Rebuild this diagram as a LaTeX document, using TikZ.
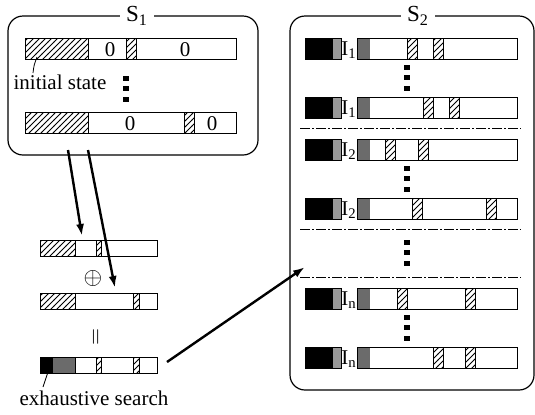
\documentclass[tikz,border=0pt]{standalone}
\usepackage{fontspec}
\setmainfont{Liberation Serif}
\usetikzlibrary{patterns,arrows.meta}
\tikzset{
	cell/.style    = {draw, line width=0.5pt},
	hatch/.style   = {draw, line width=0.5pt, pattern=north east lines},
	grain/.style   = {fill=black!40},
	darkgrain/.style = {fill=black!58},
	group/.style   = {draw, line width=0.6pt, rounded corners=7.5pt},
	title/.style   = {fill=white, inner sep=3pt, font=\rmfamily\fontsize{11.5}{12}\selectfont},
	tag/.style     = {inner sep=0pt, font=\rmfamily\fontsize{10.5}{12}\selectfont},
	sep/.style     = {line width=0.5pt, dash pattern=on 5pt off 1pt on 1pt off 1pt}, % Separator
	flow/.style    = {-{Latex[length=6pt,width=4pt]}, line width=1.2pt} % Arrows
}
\newcommand{\dotcol}[2]{%
	\foreach \k in {0,1,2} \fill (#1-3,#2+\k*10.5-2.5) rectangle (#1+3,#2+\k*10.5+2.5);}

\begin{document}
\begin{tikzpicture}[x=0.5pt, y=-0.5pt]
	\useasboundingbox (0,0) rectangle (535,414);
	% S1
	\draw[group] (8,16) rectangle (258,155);
	\node[title] (s1) at (137,16) {S\textsubscript{1}};
	\draw[hatch] (25,38) rectangle (88,59);
	\draw[hatch] (126,38) rectangle (136,59);
	\draw[cell] (25,38) rectangle (236,59);
	\node[tag] (z1) at (110,50) {0};
	\node[tag] (z2) at (185,50) {0};
	\draw[hatch] (25,112) rectangle (88,133);
	\draw[hatch] (184,112) rectangle (194,133);
	\draw[cell] (25,112) rectangle (236,133);
	\node[tag] (z3) at (130,124) {0};
	\node[tag] (z4) at (212,124) {0};
	\dotcol{126}{78}
	\node[tag] (init) at (60,82) {initial state};
	\coordinate (initend) at (37,57);
	\draw[line width=0.4pt] (33,73) .. controls (34,65) .. (initend);

	% S2
	\draw[group] (290,16) rectangle (534,390);
	\node[title] (s2) at (418,16) {S\textsubscript{2}};
	\foreach \y/\n/\a/\b in {38/1/407/433, 97/1/423/449, 139/2/385/418,
		198/2/412/486, 288/n/397/465, 347/n/433/465}{
		\fill (305,\y) rectangle (333,\y+21);
		\fill[grain] (333,\y) rectangle (341,\y+21);
		\draw[cell] (305,\y) rectangle (341,\y+21);
		\node[tag] (i\y) at (349,\y+12) {I\textsubscript{\n}};
		\fill[darkgrain] (357,\y) rectangle (370,\y+21);
		\draw[hatch] (\a,\y) rectangle (\a+10,\y+21);
		\draw[hatch] (\b,\y) rectangle (\b+10,\y+21);
		\draw[cell] (357,\y) rectangle (517,\y+21);
	}
	\dotcol{407}{67}
	\dotcol{407}{168}
	\dotcol{407}{242}
	\dotcol{407}{317}
	\draw[sep] (300,128) -- (521,128);
	\draw[sep] (300,229) -- (521,229);
	\draw[sep] (300,277) -- (521,277);

	% combining
	\draw[hatch] (40,240) rectangle (75,256);
	\draw[hatch] (96,240) rectangle (101,256);
	\draw[cell] (40,240) rectangle (157,256);
	\node[tag, font=\fontsize{13}{14}\selectfont] (plus) at (93,278) {$\oplus$};
	\draw[hatch] (40,293) rectangle (75,309);
	\draw[hatch] (133,293) rectangle (139,309);
	\draw[cell] (40,293) rectangle (157,309);
	\node[tag, rotate=90] (eq) at (97,337) {$=$};
	\fill (40,357) rectangle (53,373);
	\fill[darkgrain] (53,357) rectangle (75,373);
	\draw[cell] (75,357) -- (75,373);
	\draw[hatch] (96,357) rectangle (101,373);
	\draw[hatch] (133,357) rectangle (139,373);
	\draw[cell] (40,357) rectangle (157,373);
	\node[tag] (exh) at (94,398) {exhaustive search};
	\coordinate (exhend) at (48,372);
	\draw[line width=0.4pt] (43,387) -- (exhend);

	% arrows
	\coordinate (a1) at (68,150);
	\coordinate (b1) at (82,236);
	\coordinate (a2) at (88,150);
	\coordinate (b2) at (115,288);
	\coordinate (a3) at (167,362);
	\coordinate (b3) at (305,267);
	\draw[flow] (a1) -- (b1);
	\draw[flow] (a2) -- (b2);
	\draw[flow] (a3) -- (b3);
\end{tikzpicture}
\end{document}
